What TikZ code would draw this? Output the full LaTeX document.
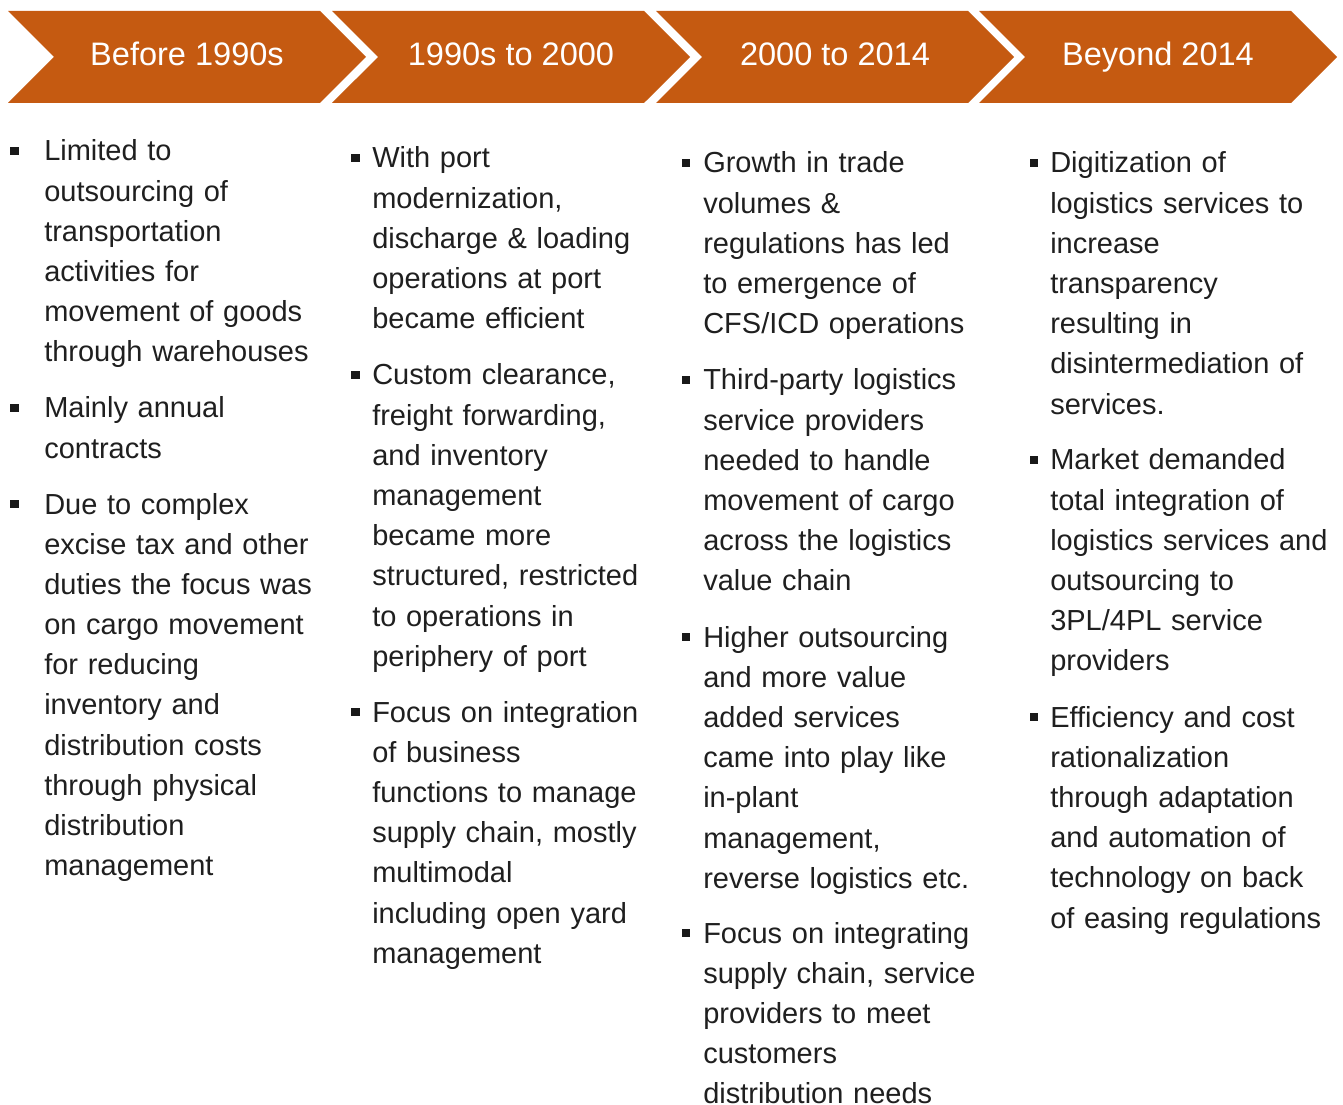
\documentclass[tikz,border=0pt]{standalone}
\usepackage{fontspec}
\setmainfont{Liberation Sans}
\usetikzlibrary{shapes.symbols,calc}
\definecolor{rust}{HTML}{C55A11}
\newcommand{\headfont}{\fontsize{24.4}{29}\selectfont}
\newcommand{\bodyfont}{\fontsize{21.75}{30.15}\selectfont}
\tikzstyle{era}=[signal, signal from=west, signal to=east, signal pointer angle=90, fill=rust, text=white, font=\headfont, minimum width=268.5pt, minimum height=69pt, inner sep=0pt, text height=17.5pt, text depth=4pt]
\tikzstyle{point}=[anchor=base west, inner sep=0pt, text width=240pt, align=left, font=\bodyfont, text=black!88]
\tikzstyle{sq}=[fill=black!90, inner sep=0pt, minimum size=6.2pt]
\newcommand{\point}{\node[point]}
\newcommand{\sq}{\node[sq]}

\begin{document}
\begin{tikzpicture}[x=0.75pt, y=-0.75pt]
\useasboundingbox (0,0) rectangle (1343,1105);
% timeline
\node[era] (e1) at (187,57) {Before 1990s};
\node[era] (e2) at (511,57) {1990s to 2000};
\node[era] (e3) at (835,57) {2000 to 2014};
\node[era] (e4) at (1158,57) {Beyond 2014};

% before 1990s
\point (p1a) at (44,161) {Limited to\\ outsourcing of\\ transportation\\ activities for\\ movement of goods\\ through warehouses};
\point (p1b) at (44,418) {Mainly annual\\ contracts};
\point (p1c) at (44,514) {Due to complex\\ excise tax and other\\ duties the focus was\\ on cargo movement\\ for reducing\\ inventory and\\ distribution costs\\ through physical\\ distribution\\ management};
\sq (s1a) at ($(p1a.base west)+(-29.5,-10)$) {};
\sq (s1b) at ($(p1b.base west)+(-29.5,-10)$) {};
\sq (s1c) at ($(p1c.base west)+(-29.5,-10)$) {};

% 1990s to 2000
\point (p2a) at (372,168) {With port\\ modernization,\\ discharge \& loading\\ operations at port\\ became efficient};
\point (p2b) at (372,385) {Custom clearance,\\ freight forwarding,\\ and inventory\\ management\\ became more\\ structured, restricted\\ to operations in\\ periphery of port};
\point (p2c) at (372,722) {Focus on integration\\ of business\\ functions to manage\\ supply chain, mostly\\ multimodal\\ including open yard\\ management};
\sq (s2a) at ($(p2a.base west)+(-16.5,-10)$) {};
\sq (s2b) at ($(p2b.base west)+(-16.5,-10)$) {};
\sq (s2c) at ($(p2c.base west)+(-16.5,-10)$) {};

% 2000 to 2014
\point (p3a) at (703,173) {Growth in trade\\ volumes \&\\ regulations has led\\ to emergence of\\ CFS/ICD operations};
\point (p3b) at (703,390) {Third-party logistics\\ service providers\\ needed to handle\\ movement of cargo\\ across the logistics\\ value chain};
\point (p3c) at (703,647) {Higher outsourcing\\ and more value\\ added services\\ came into play like\\ in-plant\\ management,\\ reverse logistics etc.};
\point (p3d) at (703,943) {Focus on integrating\\ supply chain, service\\ providers to meet\\ customers\\ distribution needs};
\sq (s3a) at ($(p3a.base west)+(-17,-10)$) {};
\sq (s3b) at ($(p3b.base west)+(-17,-10)$) {};
\sq (s3c) at ($(p3c.base west)+(-17,-10)$) {};
\sq (s3d) at ($(p3d.base west)+(-17,-10)$) {};

% beyond 2014
\point (p4a) at (1050,173) {Digitization of\\ logistics services to\\ increase\\ transparency\\ resulting in\\ disintermediation of\\ services.};
\point (p4b) at (1050,470) {Market demanded\\ total integration of\\ logistics services and\\ outsourcing to\\ 3PL/4PL service\\ providers};
\point (p4c) at (1050,727) {Efficiency and cost\\ rationalization\\ through adaptation\\ and automation of\\ technology on back\\ of easing regulations};
\sq (s4a) at ($(p4a.base west)+(-16,-10)$) {};
\sq (s4b) at ($(p4b.base west)+(-16,-10)$) {};
\sq (s4c) at ($(p4c.base west)+(-16,-10)$) {};
\end{tikzpicture}
\end{document}
